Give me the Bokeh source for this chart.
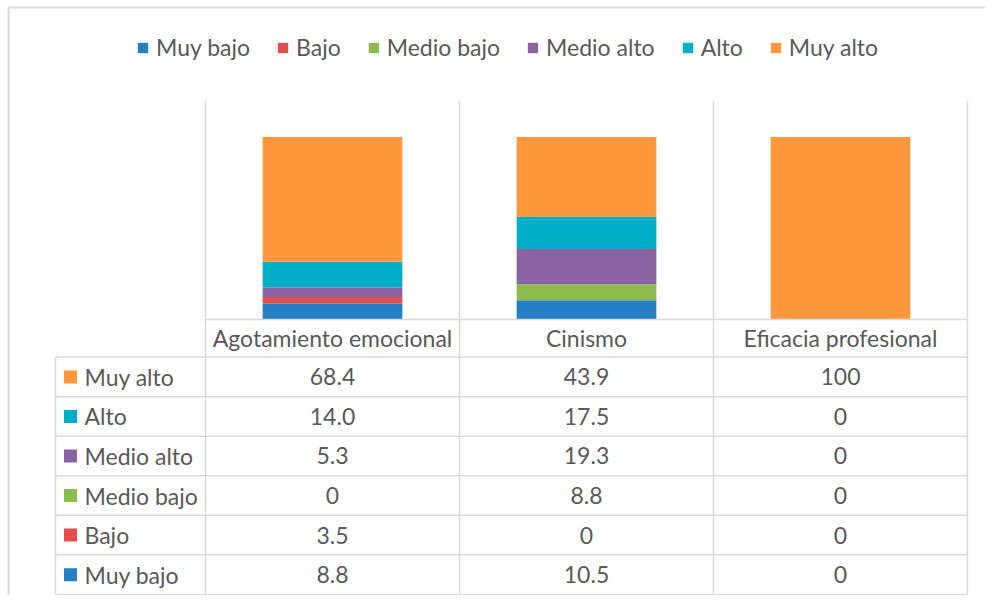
from bokeh.plotting import figure
from bokeh.models import Range1d, Legend, LegendItem, ColumnDataSource
from bokeh.core.properties import value
from bokeh.embed import file_html
from bokeh.resources import INLINE

# ---------------- data ----------------
categories = ["Agotamiento emocional", "Cinismo", "Eficacia profesional"]
levels = ["Muy bajo", "Bajo", "Medio bajo", "Medio alto", "Alto", "Muy alto"]
muy_bajo = [8.8, 10.5, 0]
bajo = [3.5, 0, 0]
medio_bajo = [0, 8.8, 0]
medio_alto = [5.3, 19.3, 0]
alto = [14.0, 17.5, 0]
muy_alto = [68.4, 43.9, 100]
colors = ["#2580C3", "#E04F4F", "#8CBC4F", "#8A64A2", "#00AEC7", "#FF973C"]

series = [muy_bajo, bajo, medio_bajo, medio_alto, alto, muy_alto]

# ---------------- layout (pixel coordinates) ----------------
W, H = 985, 595
OX, OY = 0, 0
PL, PR = 205, 967      # plot area left / right
PT, PB = 100, 319      # plot area top / baseline
YMAX = 120
TL = 55                # table left edge
HDR_B = 356.6          # header row bottom
RH = 39.55             # table row height
TB = HDR_B + 6 * RH    # table bottom
FS = "23px"
FONT = value("Lato")
TXT = "#595959"
GRID = "#D9D9D9"

CW = (PR - PL) / len(categories)
k = (PB - PT) / YMAX

p = figure(width=W, height=H, output_backend="svg", toolbar_location=None,
           x_axis_type=None, y_axis_type=None, min_border=0,
           x_range=Range1d(OX, OX + W), y_range=Range1d(OY + H, OY))
p.outline_line_color = None
p.background_fill_color = "white"
p.border_fill_color = "white"

p.extra_x_ranges = {"bx": Range1d((OX - PL) / CW, (OX + W - PL) / CW)}
p.extra_y_ranges = {"by": Range1d(-(OY + H - PB) / k, (PB - OY) / k),
                    "ty": Range1d((OY + H - HDR_B) / RH, (OY - HDR_B) / RH)}

# outer chart border (top / left)
p.segment(x0=[8, 8], y0=[7, 7], x1=[OX + W, 8], y1=[7, OY + H],
          line_color=GRID, line_width=2)

# bars
xpos = [i + 0.5 for i in range(len(categories))]
src = ColumnDataSource(dict(x=xpos, **{lvl: s for lvl, s in zip(levels, series)}))
rs = p.vbar_stack(levels, x="x", width=0.55, color=colors, source=src,
                  line_color=None, x_range_name="bx", y_range_name="by")

# vertical category separators (through plot area and table)
nsep = len(categories) + 1
p.segment(x0=list(range(nsep)), x1=list(range(nsep)), y0=[PT] * nsep, y1=[TB] * nsep,
          line_color=GRID, line_width=1.5, x_range_name="bx")
# table left border
p.segment(x0=[TL], x1=[TL], y0=[HDR_B], y1=[TB], line_color=GRID, line_width=1.5)
# baseline / header top
p.segment(x0=[PL], x1=[PR], y0=[PB], y1=[PB], line_color=GRID, line_width=1.5)
# row lines
p.segment(x0=[TL] * 7, x1=[PR] * 7, y0=list(range(7)), y1=list(range(7)),
          line_color=GRID, line_width=1.5, y_range_name="ty")

# header labels
p.text(x=xpos, y=[(PB + HDR_B) / 2] * len(categories), text=categories,
       text_font=FONT, text_font_size=value(FS), text_color=TXT,
       text_align="center", text_baseline="middle", x_range_name="bx")

# table rows (Muy alto on top)
rows = list(reversed(list(zip(levels, series, colors))))
def fmt(v):
    return str(int(v)) if v in (0, 100) else f"{v:.1f}"

for r, (lvl, s, c) in enumerate(rows):
    yc = r + 0.5
    p.scatter(x=[70], y=[yc], marker="square", size=13, fill_color=c, line_color=None,
              y_range_name="ty")
    p.text(x=[84], y=[yc], text=[lvl], text_font=FONT, text_font_size=value(FS),
           text_color=TXT, text_align="left", text_baseline="middle", y_range_name="ty")
    p.text(x=xpos, y=[yc] * len(s), text=[fmt(v) for v in s], text_font=FONT,
           text_font_size=value(FS), text_color=TXT, text_align="center",
           text_baseline="middle", x_range_name="bx", y_range_name="ty")

legend = Legend(items=[LegendItem(label=lvl, renderers=[r]) for lvl, r in zip(levels, rs)],
                orientation="horizontal", location=(136, 534),
                label_text_font="Lato", label_text_font_size=FS, label_text_color=TXT,
                glyph_width=13, glyph_height=13, label_standoff=7, spacing=26,
                padding=0, margin=0, border_line_color=None, background_fill_alpha=0)
p.add_layout(legend)

open("out.html", "w").write(file_html(p, INLINE))
